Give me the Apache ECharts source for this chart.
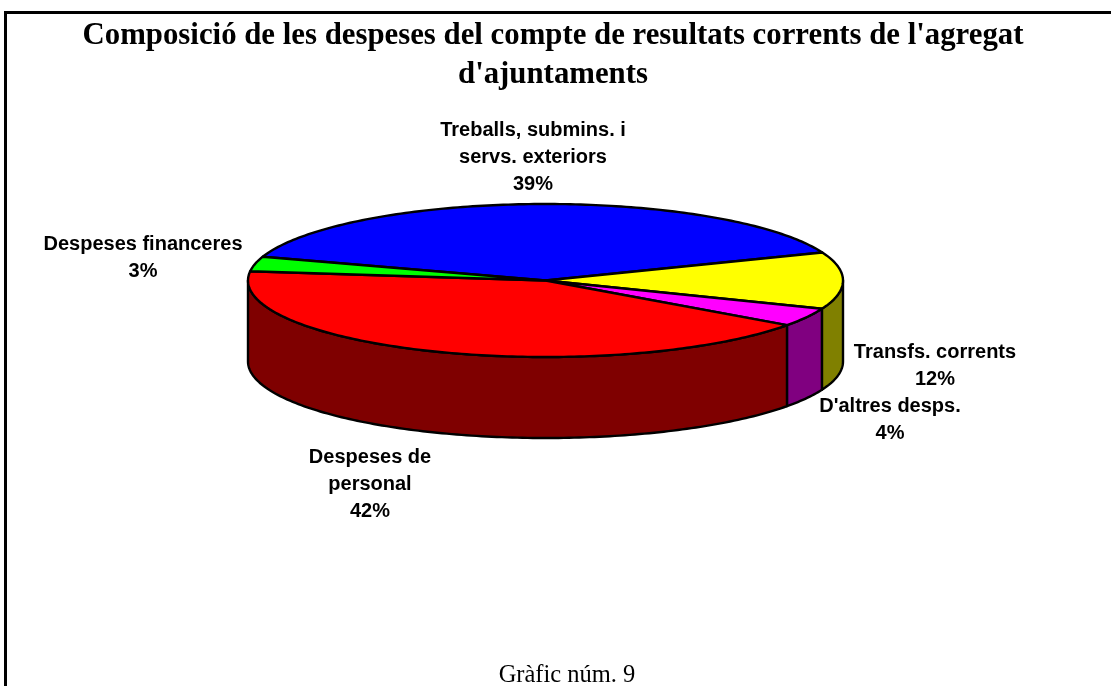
<!DOCTYPE html>
<html>
<head>
<meta charset="utf-8">
<style>html,body{margin:0;padding:0;background:#fff}#c{width:1111px;height:686px}</style>
<script src="https://cdn.jsdelivr.net/npm/echarts@6/dist/echarts.min.js"></script>
</head>
<body>
<div id="c"></div>
<script>
const titleText = "Composició de les despeses del compte de resultats corrents de l'agregat\nd'ajuntaments";
const footerText = "Gràfic núm. 9";
const categories = ["Treballs, submins. i\nservs. exteriors", "Transfs. corrents", "D'altres desps.", "Despeses de\npersonal", "Despeses financeres"];
const values = [39.0, 12.0, 3.9, 42.0, 3.1];
const topColors = ["#0000FF", "#FFFF00", "#FF00FF", "#FF0000", "#00FF00"];
const sideColors = ["#000080", "#808000", "#800080", "#7F0000", "#008000"];
const labelAnchors = [[533, 130], [935, 352], [890, 406], [370, 457], [143, 244]];

const pie = { cx: 545.5, cy: 280.5, rx: 297.5, ry: 76.5, depth: 81, start: -161.9 };
const total = values.reduce((a, b) => a + b, 0);
const rad = d => d * Math.PI / 180;
const pt = (t, dy) => [pie.cx + pie.rx * Math.cos(rad(t)), pie.cy + dy + pie.ry * Math.sin(rad(t))];
function arc(a, b, dy) {
  const out = [], n = Math.max(2, Math.ceil(Math.abs(b - a)));
  for (let i = 0; i <= n; i++) out.push(pt(a + (b - a) * i / n, dy));
  return out;
}
const boundaries = [];
values.reduce((acc, v) => { boundaries.push([acc, acc + v / total * 360]); return acc + v / total * 360; }, pie.start);

function renderSlice(params, api) {
  const i = params.dataIndex;
  const [a, b] = boundaries[i];
  const children = [];
  const lo = Math.max(a, 0), hi = Math.min(b, 180);
  if (hi > lo) {
    const pts = arc(lo, hi, 0).concat(arc(hi, lo, pie.depth));
    children.push({
      type: 'polygon', shape: { points: pts },
      style: { fill: sideColors[i], stroke: '#000', lineWidth: 2.4, lineJoin: 'round' }
    });
  }
  const top = [[pie.cx, pie.cy]].concat(arc(a, b, 0));
  children.push({
    type: 'polygon', shape: { points: top },
    style: { fill: topColors[i], stroke: '#000', lineWidth: 2.4, lineJoin: 'round' }
  });
  const lines = categories[i] + "\n" + Math.round(api.value(0)) + "%";
  children.push({
    type: 'text', x: labelAnchors[i][0], y: labelAnchors[i][1] - 13.5,
    style: { text: lines, fill: '#000', font: 'bold 20px "Liberation Sans", Arial, sans-serif',
      align: 'center', verticalAlign: 'top', lineHeight: 27 }
  });
  return { type: 'group', children };
}

const chart = echarts.init(document.getElementById('c'), null, { renderer: 'canvas' });
chart.setOption({
  animation: false,
  backgroundColor: '#fff',
  title: [{
    text: titleText, left: 548, top: 12, textAlign: 'center',
    textStyle: { fontFamily: '"Liberation Serif", serif', fontWeight: 'bold', fontSize: 30.8, lineHeight: 39, color: '#000' }
  }, {
    text: footerText, left: 562, top: 658, textAlign: 'center',
    textStyle: { fontFamily: '"Liberation Serif", serif', fontWeight: 'normal', fontSize: 24.5, color: '#000' }
  }],
  graphic: [
    { type: 'line', shape: { x1: 4, y1: 12.5, x2: 1111, y2: 12.5 }, style: { stroke: '#000', lineWidth: 3 } },
    { type: 'line', shape: { x1: 5.5, y1: 11, x2: 5.5, y2: 686 }, style: { stroke: '#000', lineWidth: 3 } }
  ],
  series: [{
    type: 'custom',
    coordinateSystem: 'none',
    renderItem: renderSlice,
    data: values.map(v => [v]),
    silent: true
  }]
});
</script>
</body>
</html>
